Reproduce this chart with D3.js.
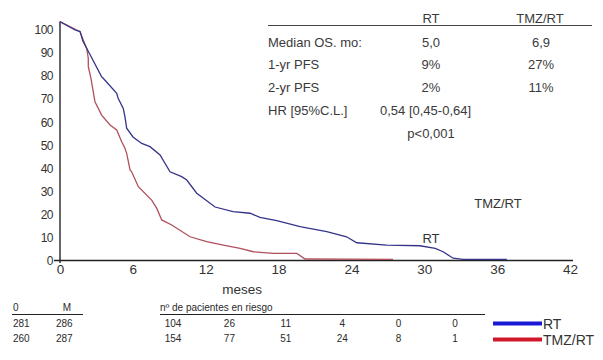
<!DOCTYPE html>
<html>
<head>
<meta charset="utf-8">
<script src="https://cdn.jsdelivr.net/npm/d3@7"></script>
<style>
  body { margin: 0; background: #fff; }
  svg { font-family: "Liberation Sans", Arial, sans-serif; }
  .tick text { fill: #333; }
  .small { font-family: "Liberation Sans Narrow", "Liberation Sans", Arial, sans-serif; font-size: 10px; fill: #2a2a2a; }
</style>
</head>
<body>
<svg width="603" height="360"></svg>
<script>
// curve: months / percent
var blueMonths = [0, 1.24, 1.65, 1.9, 2.47, 3.43, 3.54, 4.67, 4.78, 5.21, 5.35, 5.49, 6.01, 6.73, 7.41, 8.24, 9.06, 10.02, 10.44, 11.26, 12.77, 14.25, 15.65, 16.47, 17.85, 19.77, 21.97, 23.6, 24.44, 26.9, 29.65, 30.9, 31.55, 32.37, 33.2, 36.8];
var blueValues = [103.6, 100, 99.3, 95, 89.4, 79.7, 79.2, 72.5, 70.5, 66, 62.3, 57.4, 53.6, 50.8, 49.4, 45.8, 38.5, 36.4, 34.9, 29.2, 23.2, 21.2, 20.5, 18.7, 17.3, 14.7, 12.5, 10.3, 7.7, 6.7, 6.4, 5.3, 3.8, 1.0, 0.5, 0.5];
var redMonths = [0, 1.38, 1.65, 1.92, 2.2, 2.33, 2.33, 2.55, 2.74, 2.88, 3.43, 4.12, 4.67, 5.08, 5.35, 5.49, 5.77, 5.9, 6.45, 7.55, 7.97, 8.38, 9.2, 10.71, 12.08, 13.45, 14.83, 15.92, 17.57, 19.5, 20.18, 27.43];
var redValues = [103.6, 100, 99.3, 95.6, 92, 87.7, 84.1, 79, 73.2, 68.9, 63.1, 58.8, 56.6, 51.5, 48.7, 46.5, 39.3, 38.5, 32, 26.2, 22.6, 17.6, 15.4, 10.3, 8.2, 6.7, 5.3, 3.8, 3.1, 3.1, 0.65, 0.5];

var xTicks = [0, 6, 12, 18, 24, 30, 36, 42];
var yTicks = [0, 10, 20, 30, 40, 50, 60, 70, 80, 90, 100];

var statRows = ["Median OS. mo:", "1-yr PFS", "2-yr PFS"];
var statRT = ["5,0", "9%", "2%"];
var statTMZ = ["6,9", "27%", "11%"];

var riskLeftHead = ["0", "M"];
var riskLeftRT = ["281", "286"];
var riskLeftTMZ = ["260", "287"];
var riskRT = ["104", "26", "11", "4", "0", "0"];
var riskTMZ = ["154", "77", "51", "24", "8", "1"];

var svg = d3.select("svg");
var x = d3.scaleLinear().domain([0, 42]).range([60, 570]);
var y = d3.scaleLinear().domain([0, 100]).range([260.5, 30]);

// axes
svg.append("line").attr("x1", 60).attr("x2", 60).attr("y1", 21.5).attr("y2", 263)
  .attr("stroke", "#666").attr("stroke-width", 2);
svg.append("line").attr("x1", 54).attr("x2", 573).attr("y1", 260.5).attr("y2", 260.5)
  .attr("stroke", "#222").attr("stroke-width", 1.3);

var yAxis = svg.append("g").attr("transform", "translate(53,0)")
  .call(d3.axisLeft(y).tickValues(yTicks).tickSize(0).tickPadding(0));
yAxis.select(".domain").remove();
yAxis.selectAll("text").style("font-size", "12px").attr("letter-spacing", "-0.5");

var xAxis = svg.append("g").attr("transform", "translate(0,263)")
  .call(d3.axisBottom(x).tickValues(xTicks).tickSize(0).tickPadding(1));
xAxis.select(".domain").remove();
xAxis.selectAll("text").style("font-size", "13.5px");

svg.append("text").attr("x", x(15)).attr("y", 294).attr("text-anchor", "middle")
  .style("font-size", "13.5px").attr("fill", "#333").text("meses");

// curves
var line = d3.line().x(function(d) { return x(d[0]); }).y(function(d) { return y(d[1]); });
svg.append("path").datum(d3.zip(redMonths, redValues)).attr("d", line)
  .attr("fill", "none").attr("stroke", "#b0505e").attr("stroke-width", 1.3);
svg.append("path").datum(d3.zip(blueMonths, blueValues)).attr("d", line)
  .attr("fill", "none").attr("stroke", "#34348a").attr("stroke-width", 1.3);

svg.append("text").attr("x", 498).attr("y", 208).attr("text-anchor", "middle")
  .style("font-size", "13px").attr("fill", "#333").text("TMZ/RT");
svg.append("text").attr("x", 431).attr("y", 243).attr("text-anchor", "middle")
  .style("font-size", "13px").attr("fill", "#333").text("RT");

// stats table
var tf = "13px", tc = "#3a3a3a";
svg.append("text").attr("x", 431).attr("y", 23).attr("text-anchor", "middle").style("font-size", tf).attr("fill", tc).text("RT");
svg.append("text").attr("x", 540).attr("y", 23).attr("text-anchor", "middle").style("font-size", tf).attr("fill", tc).text("TMZ/RT");
svg.append("line").attr("x1", 268).attr("x2", 592).attr("y1", 25.5).attr("y2", 25.5).attr("stroke", "#444").attr("stroke-width", 1);
statRows.forEach(function(r, i) {
  var yy = 46.5 + i * 22.5;
  svg.append("text").attr("x", 268).attr("y", yy).style("font-size", tf).attr("fill", tc).text(r);
  svg.append("text").attr("x", 431).attr("y", yy).attr("text-anchor", "middle").style("font-size", tf).attr("fill", tc).text(statRT[i]);
  svg.append("text").attr("x", 541).attr("y", yy).attr("text-anchor", "middle").style("font-size", tf).attr("fill", tc).text(statTMZ[i]);
});
svg.append("text").attr("x", 268).attr("y", 114.5).style("font-size", tf).attr("fill", tc).text("HR [95%C.L.]");
svg.append("text").attr("x", 380).attr("y", 114.5).style("font-size", tf).attr("fill", tc).text("0,54 [0,45-0,64]");
svg.append("text").attr("x", 431).attr("y", 138).attr("text-anchor", "middle").style("font-size", tf).attr("fill", tc).text("p<0,001");

// risk table
var leftCols = [13, 60];
riskLeftHead.forEach(function(t, i) {
  svg.append("text").attr("class", "small").attr("x", leftCols[i] + (i ? 7 : 0)).attr("y", 311)
    .attr("text-anchor", i ? "middle" : "start").text(t);
  svg.append("text").attr("class", "small").attr("x", leftCols[i] - (i ? 4 : 0)).attr("y", 327).text(riskLeftRT[i]);
  svg.append("text").attr("class", "small").attr("x", leftCols[i] - (i ? 4 : 0)).attr("y", 342).text(riskLeftTMZ[i]);
});
svg.append("line").attr("x1", 12).attr("x2", 83).attr("y1", 314.5).attr("y2", 314.5).attr("stroke", "#222");
svg.append("text").attr("class", "small").attr("x", 160).attr("y", 311).text("nº de pacientes en riesgo");
svg.append("line").attr("x1", 160).attr("x2", 485).attr("y1", 314.5).attr("y2", 314.5).attr("stroke", "#222");

var riskX = d3.scalePoint().domain(d3.range(riskRT.length)).range([173, 455]);
riskRT.forEach(function(t, i) {
  svg.append("text").attr("class", "small").attr("x", riskX(i)).attr("y", 327).attr("text-anchor", "middle").text(t);
  svg.append("text").attr("class", "small").attr("x", riskX(i)).attr("y", 342).attr("text-anchor", "middle").text(riskTMZ[i]);
});

// legend
var legend = [["RT", "#1a1ad6"], ["TMZ/RT", "#d0182a"]];
legend.forEach(function(l, i) {
  var yy = 323.5 + i * 16;
  svg.append("line").attr("x1", 493).attr("x2", 542).attr("y1", yy).attr("y2", yy)
    .attr("stroke", l[1]).attr("stroke-width", 4);
  svg.append("text").attr("x", 543).attr("y", yy + 5).style("font-size", "14px").attr("fill", "#333").text(l[0]);
});
</script>
</body>
</html>
